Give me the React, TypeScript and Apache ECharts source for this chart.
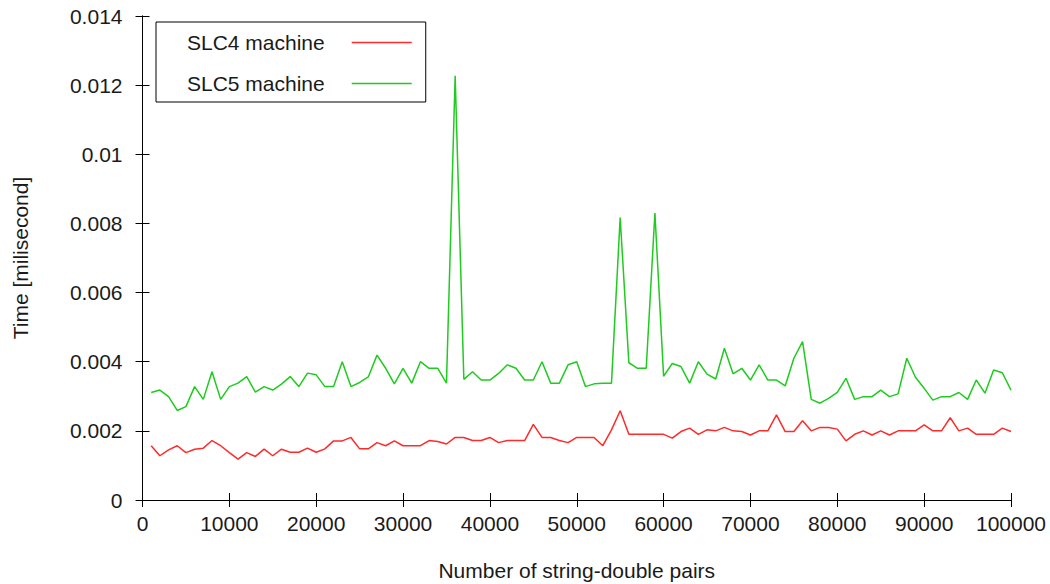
import React, { useEffect, useRef } from "react";
import * as echarts from "echarts";

const pairCounts = [
  1000, 2000, 3000, 4000, 5000, 6000, 7000, 8000, 9000, 10000,
  11000, 12000, 13000, 14000, 15000, 16000, 17000, 18000, 19000, 20000,
  21000, 22000, 23000, 24000, 25000, 26000, 27000, 28000, 29000, 30000,
  31000, 32000, 33000, 34000, 35000, 36000, 37000, 38000, 39000, 40000,
  41000, 42000, 43000, 44000, 45000, 46000, 47000, 48000, 49000, 50000,
  51000, 52000, 53000, 54000, 55000, 56000, 57000, 58000, 59000, 60000,
  61000, 62000, 63000, 64000, 65000, 66000, 67000, 68000, 69000, 70000,
  71000, 72000, 73000, 74000, 75000, 76000, 77000, 78000, 79000, 80000,
  81000, 82000, 83000, 84000, 85000, 86000, 87000, 88000, 89000, 90000,
  91000, 92000, 93000, 94000, 95000, 96000, 97000, 98000, 99000, 100000,
];

const slc4 = [
  0.00157, 0.00128, 0.00145, 0.00157, 0.00137, 0.00147, 0.0015, 0.00172, 0.00157, 0.00137,
  0.00118, 0.00137, 0.00126, 0.00147, 0.00128, 0.00147, 0.00138, 0.00138, 0.0015, 0.00138,
  0.00148, 0.00171, 0.00171, 0.00181, 0.00148, 0.00148, 0.00166, 0.00157, 0.00171, 0.00157,
  0.00157, 0.00157, 0.00172, 0.00169, 0.00162, 0.00181, 0.00181, 0.00172, 0.00172, 0.00181,
  0.00166, 0.00172, 0.00172, 0.00172, 0.00219, 0.00181, 0.00181, 0.00172, 0.00166, 0.00181,
  0.00181, 0.00181, 0.00157, 0.00203, 0.00258, 0.0019, 0.0019, 0.0019, 0.0019, 0.0019,
  0.00179, 0.00198, 0.00208, 0.0019, 0.00203, 0.002, 0.0021, 0.002, 0.00198, 0.00188,
  0.002, 0.002, 0.00246, 0.00198, 0.00198, 0.00229, 0.002, 0.0021, 0.0021, 0.00205,
  0.00171, 0.0019, 0.002, 0.00188, 0.002, 0.00188, 0.002, 0.002, 0.002, 0.00217,
  0.002, 0.002, 0.00238, 0.002, 0.00208, 0.0019, 0.0019, 0.0019, 0.00208, 0.00198,
];

const slc5 = [
  0.00311, 0.00318, 0.00299, 0.00259, 0.0027, 0.00328, 0.00291, 0.00371, 0.00291, 0.00328,
  0.00338, 0.00357, 0.00312, 0.00328, 0.00318, 0.00335, 0.00357, 0.00328, 0.00367, 0.00362,
  0.00328, 0.00328, 0.004, 0.00328, 0.0034, 0.00356, 0.00419, 0.00381, 0.00336, 0.00381,
  0.00338, 0.004, 0.00381, 0.00381, 0.00338, 0.01227, 0.00349, 0.00371, 0.00347, 0.00347,
  0.00366, 0.00391, 0.00381, 0.00347, 0.00347, 0.004, 0.00338, 0.00338, 0.00391, 0.004,
  0.00328, 0.00336, 0.00338, 0.00338, 0.00817, 0.00397, 0.00381, 0.00381, 0.0083, 0.00358,
  0.00395, 0.00386, 0.00338, 0.004, 0.00364, 0.0035, 0.00439, 0.00365, 0.00381, 0.00347,
  0.00391, 0.00347, 0.00347, 0.0033, 0.0041, 0.00458, 0.00291, 0.0028, 0.00294, 0.00311,
  0.00352, 0.00291, 0.00299, 0.00299, 0.00318, 0.00299, 0.00307, 0.0041, 0.00355, 0.00323,
  0.00289, 0.00299, 0.00299, 0.00311, 0.00291, 0.00347, 0.00309, 0.00376, 0.00368, 0.00318,
];

const seriesNames = ["SLC4 machine", "SLC5 machine"];
const xTitle = "Number of string-double pairs";
const yTitle = "Time [milisecond]";

const FONT = '"Liberation Sans", Arial, sans-serif';
const TEXT_COLOR = "#1a1a1a";
const RED = "#ff2a2a";
const GREEN = "#1ecb1e";

export default function App() {
  const ref = useRef<HTMLDivElement>(null);

  useEffect(() => {
    if (!ref.current) return;
    const chart = echarts.init(ref.current, null, { renderer: "svg" });

    const tickStyle = { show: true, inside: true, length: 7, lineStyle: { color: "#000", width: 1 } };
    const axisLine = { show: true, lineStyle: { color: "#000", width: 1 } };
    const labelStyle = { color: TEXT_COLOR, fontSize: 21, fontFamily: FONT };

    const option: any = {
      animation: false,
      backgroundColor: "#fff",
      textStyle: { fontFamily: FONT },
      grid: {
        left: 142.5,
        right: 39,
        top: 16,
        bottom: 84,
        outerBoundsMode: "none",
        containLabel: false,
      },
      legend: {
        show: true,
        data: seriesNames,
        orient: "vertical",
        align: "right",
        left: 156,
        top: 22,
        padding: [10, 14, 8, 31],
        itemGap: 20,
        itemWidth: 60,
        itemHeight: 1.5,
        icon: "rect",
        borderColor: "#000",
        borderWidth: 1,
        backgroundColor: "#fff",
        textStyle: {
          color: TEXT_COLOR,
          fontSize: 21,
          fontFamily: FONT,
          lineHeight: 21,
          padding: [0, 22, 0, 0],
        },
      },
      xAxis: [
        {
          type: "value",
          min: 0,
          max: 100000,
          interval: 10000,
          position: "bottom",
          name: xTitle,
          nameLocation: "middle",
          nameGap: 60,
          nameTextStyle: { color: TEXT_COLOR, fontSize: 21, fontFamily: FONT },
          axisLine,
          axisTick: tickStyle,
          axisLabel: { ...labelStyle, margin: 13, formatter: (v: number) => String(v) },
          splitLine: { show: false },
        },
        {
          type: "value",
          min: 0,
          max: 100000,
          interval: 10000,
          position: "top",
          axisLine,
          axisTick: tickStyle,
          axisLabel: { show: false },
          splitLine: { show: false },
        },
      ],
      yAxis: [
        {
          type: "value",
          min: 0,
          max: 0.014,
          interval: 0.002,
          position: "left",
          name: yTitle,
          nameLocation: "middle",
          nameRotate: 90,
          nameGap: 112,
          nameTextStyle: { color: TEXT_COLOR, fontSize: 21, fontFamily: FONT },
          axisLine,
          axisTick: tickStyle,
          axisLabel: {
            ...labelStyle,
            margin: 20,
            formatter: (v: number) => String(Number(v.toFixed(4))),
          },
          splitLine: { show: false },
        },
        {
          type: "value",
          min: 0,
          max: 0.014,
          interval: 0.002,
          position: "right",
          axisLine,
          axisTick: tickStyle,
          axisLabel: { show: false },
          splitLine: { show: false },
        },
      ],
      series: [
        {
          name: seriesNames[0],
          type: "line",
          xAxisIndex: 0,
          yAxisIndex: 0,
          symbol: "none",
          showSymbol: false,
          lineStyle: { color: RED, width: 1.5 },
          itemStyle: { color: RED },
          data: pairCounts.map((x, i) => [x, slc4[i]]),
        },
        {
          name: seriesNames[1],
          type: "line",
          xAxisIndex: 0,
          yAxisIndex: 0,
          symbol: "none",
          showSymbol: false,
          lineStyle: { color: GREEN, width: 1.5 },
          itemStyle: { color: GREEN },
          data: pairCounts.map((x, i) => [x, slc5[i]]),
        },
      ],
    };

    chart.setOption(option);
    return () => chart.dispose();
  }, []);

  return (
    <div
      ref={ref}
      style={{ position: "fixed", left: 0, top: 0, width: 1050, height: 584, background: "#fff" }}
    />
  );
}
